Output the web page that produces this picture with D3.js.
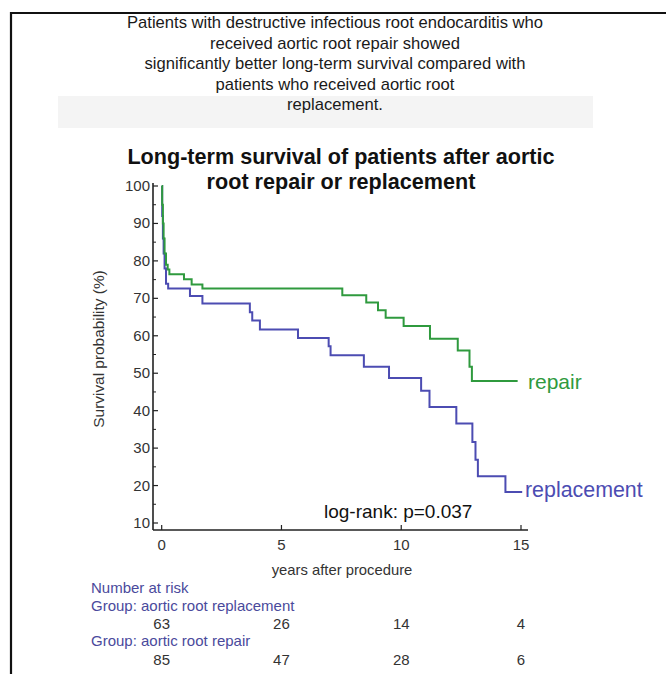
<!DOCTYPE html>
<html><head><meta charset="utf-8">
<script src="https://cdn.jsdelivr.net/npm/d3@7"></script>
<style>body{margin:0;background:#fff}svg{display:block}text{font-family:"Liberation Sans",Arial,sans-serif}</style>
</head><body>
<svg id="c" width="666" height="674"></svg>
<script>
const captionLines = ["Patients with destructive infectious root endocarditis who","received aortic root repair showed","significantly better long-term survival compared with","patients who received aortic root","replacement."];
const titleLines = ["Long-term survival of patients after aortic","root repair or replacement"];
const yTicks = [10,20,30,40,50,60,70,80,90,100];
const yMinor = [15,25,35,45,55,65,75,85,95];
const xTicks = [0,5,10,15];
// Kaplan-Meier steps [time, survival %]
const repairTimes = [0,0.02,0.05,0.08,0.12,0.18,0.25,0.32,0.93,1.25,1.7,7.54,8.54,9.03,9.35,10.1,11.2,12.36,12.85,12.95,14.86];
const repairSurv  = [100,95,90,86,82,79,77.7,76.4,75.1,73.7,72.6,70.8,68.9,66.8,64.8,62.6,59.2,56.1,51.7,47.9,47.9];
const replTimes = [0,0.02,0.05,0.08,0.12,0.18,0.27,1.18,1.7,3.68,3.78,4.1,5.69,6.97,7.05,8.44,9.49,10.83,11.18,12.3,12.97,13.1,13.2,14.35,15.05];
const replSurv  = [100,92,86,82,78,73.9,72.6,70.6,68.6,66.3,64.1,61.7,59.4,57.2,54.8,51.7,48.7,45.3,41.0,36.6,31.6,26.9,22.5,18.3,18.3];
const riskTimes = [0,5,10,15];
const riskReplacement = [63,26,14,4];
const riskRepair = [85,47,28,6];

const svg = d3.select("#c");
const green = "#2f9a3e", blue = "#4c4cb2", groupCol = "#4a4a9c";

// frame
svg.append("path").attr("d","M11,674 L11,13 L666,13").attr("fill","none").attr("stroke","#111").attr("stroke-width",2.2);
// caption box
svg.append("rect").attr("x",58).attr("y",96).attr("width",535).attr("height",32).attr("fill","#f4f4f4");
svg.selectAll(".cap").data(captionLines).join("text")
  .attr("x",335).attr("y",(d,i)=>28+i*20.5).attr("text-anchor","middle")
  .attr("font-size",16.6).attr("fill","#1a1a1a").text(d=>d);
svg.selectAll(".ttl").data(titleLines).join("text")
  .attr("x",341).attr("y",(d,i)=>164+i*25).attr("text-anchor","middle")
  .attr("font-size",21.6).attr("font-weight","bold").attr("fill","#111").text(d=>d);

const x = d3.scaleLinear().domain([0,15]).range([161.7,521]);
const y = d3.scaleLinear().domain([10,100]).range([523,186]);
const axX = 153, axY = 530;

const g = svg.append("g");
// y axis
g.append("line").attr("x1",axX).attr("x2",axX).attr("y1",183).attr("y2",axY).attr("stroke","#222").attr("stroke-width",1.6);
g.selectAll(".yt").data(yTicks).join("line").attr("x1",axX).attr("x2",axX+5).attr("y1",d=>y(d)).attr("y2",d=>y(d)).attr("stroke","#222").attr("stroke-width",1.2);
g.selectAll(".ym").data(yMinor).join("line").attr("x1",axX).attr("x2",axX+3).attr("y1",d=>y(d)).attr("y2",d=>y(d)).attr("stroke","#222").attr("stroke-width",1);
g.selectAll(".yl").data(yTicks).join("text").attr("x",axX-3).attr("y",d=>y(d)+5).attr("text-anchor","end").attr("font-size",15).attr("fill","#333").text(d=>d);
// x axis
g.append("line").attr("x1",axX).attr("x2",528).attr("y1",axY).attr("y2",axY).attr("stroke","#222").attr("stroke-width",1.6);
g.selectAll(".xt").data(xTicks).join("line").attr("x1",d=>x(d)).attr("x2",d=>x(d)).attr("y1",axY).attr("y2",axY-5).attr("stroke","#222").attr("stroke-width",1.2);
g.selectAll(".xl").data(xTicks).join("text").attr("x",d=>x(d)).attr("y",axY+20).attr("text-anchor","middle").attr("font-size",15).attr("fill","#333").text(d=>d);
g.append("text").attr("x",342).attr("y",575).attr("text-anchor","middle").attr("font-size",14.8).attr("fill","#333").text("years after procedure");
g.append("text").attr("transform","translate(104,349) rotate(-90)").attr("text-anchor","middle").attr("font-size",15.4).attr("fill","#333").text("Survival probability (%)");

const line = d3.line().x(d=>x(d[0])).y(d=>y(d[1])).curve(d3.curveStepAfter);
const repair = repairTimes.map((t,i)=>[t,repairSurv[i]]);
const repl = replTimes.map((t,i)=>[t,replSurv[i]]);
g.append("path").attr("d",line(repl)).attr("fill","none").attr("stroke",blue).attr("stroke-width",2);
g.append("path").attr("d",line(repair)).attr("fill","none").attr("stroke",green).attr("stroke-width",2);

g.append("text").attr("x",528).attr("y",389).attr("font-size",21).attr("fill",green).text("repair");
g.append("text").attr("x",525).attr("y",497).attr("font-size",21.4).attr("fill",blue).text("replacement");
g.append("text").attr("x",324).attr("y",518).attr("font-size",19).attr("fill","#111").text("log-rank: p=0.037");

// number at risk
const fs = 15;
svg.append("text").attr("x",91).attr("y",593).attr("font-size",fs).attr("fill",groupCol).text("Number at risk");
svg.append("text").attr("x",91).attr("y",611).attr("font-size",fs).attr("fill",groupCol).text("Group: aortic root replacement");
svg.selectAll(".r1").data(riskReplacement).join("text").attr("x",(d,i)=>x(riskTimes[i])).attr("y",629).attr("text-anchor","middle").attr("font-size",fs).attr("fill","#333").text(d=>d);
svg.append("text").attr("x",91).attr("y",646).attr("font-size",fs).attr("fill",groupCol).text("Group: aortic root repair");
svg.selectAll(".r2").data(riskRepair).join("text").attr("x",(d,i)=>x(riskTimes[i])).attr("y",665).attr("text-anchor","middle").attr("font-size",fs).attr("fill","#333").text(d=>d);
</script>
</body></html>
